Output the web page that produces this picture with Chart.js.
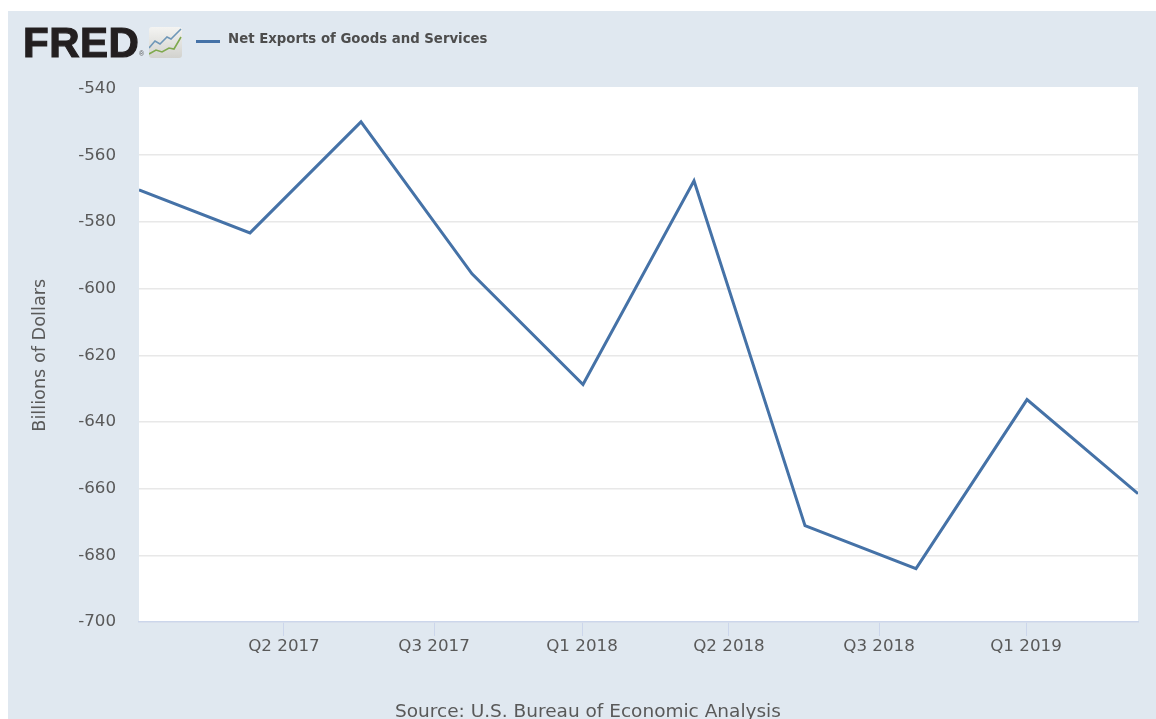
<!DOCTYPE html>
<html lang="en">
  <head>
    <meta charset="UTF-8" />
    <title>Net Exports of Goods and Services</title>
    <style>
      html, body {
        margin: 0;
        height: 100%;
        overflow: hidden;
        background: #fff;
      }
      .panel {
        position: absolute;
        left: 8px;
        top: 11px;
        right: 0;
        bottom: 0;
        background: #e0e8f0;
      }
      #chartWrap {
        position: absolute;
        left: 0;
        top: 0;
        width: 1156px;
        height: 719px;
      }
      .logo {
        position: absolute;
        left: 23px;
        top: 19px;
        font: bold 42px "Liberation Sans", sans-serif;
        letter-spacing: 0.5px;
        -webkit-text-stroke: 1.2px #231f20;
        color: #231f20;
        line-height: 48px;
      }
      .logoMark {
        position: absolute;
        left: 139px;
        top: 50px;
        font: 7px "Liberation Sans", sans-serif;
        color: #555;
      }
      .logoIcon {
        position: absolute;
        left: 149px;
        top: 27px;
      }
      .legendLine {
        position: absolute;
        left: 196px;
        top: 40px;
        width: 24px;
        height: 3px;
        background: #4572a7;
      }
      .legendText {
        position: absolute;
        left: 228px;
        top: 30px;
        font: bold 13.3px "DejaVu Sans", sans-serif;
        color: #4d4d4d;
        line-height: 18px;
        white-space: nowrap;
      }
      .source {
        position: absolute;
        left: 395px;
        top: 700px;
        width: 385px;
        text-align: center;
        font: 18.5px "DejaVu Sans", sans-serif;
        color: #595959;
        line-height: 22px;
        white-space: nowrap;
      }
    </style>
  </head>

  <body>
    <div class="panel"></div>
    <div id="chartWrap"><canvas id="lineExports" width="1156" height="719"></canvas></div>
    <div class="logo">FRED</div>
    <div class="logoMark">®</div>
    <svg class="logoIcon" width="33" height="31" viewBox="0 0 33 31">
      <defs>
        <linearGradient id="iconFill" x1="0" y1="0" x2="0" y2="1">
          <stop offset="0" stop-color="#f4f4f2" />
          <stop offset="1" stop-color="#d2d2ce" />
        </linearGradient>
      </defs>
      <rect width="33" height="31" rx="3" fill="url(#iconFill)" />
      <polyline points="0,21 6,14 11,17 18,10 22,12 32,2" fill="none" stroke="#6f97b8" stroke-width="1.6" />
      <polyline points="0,27 7,23 13,25 20,21 25,22 32,10" fill="none" stroke="#7fa94e" stroke-width="1.6" />
    </svg>
    <div class="legendLine"></div>
    <div class="legendText">Net Exports of Goods and Services</div>
    <div class="source">Source: U.S. Bureau of Economic Analysis</div>

    <script src="https://cdn.jsdelivr.net/npm/chart.js@4/dist/chart.umd.min.js"></script>
    <script>
      // quarter number of each observation, counted from the first one
      const obsPositions = [0, 1, 2, 3, 4, 5, 6, 7, 8, 9];
      const netExports = [-570.4, -583.3, -550, -595.6, -628.8, -567.7, -671.1, -684, -633.3, -661.5];

      const tickLabels = ["Q2 2017", "Q3 2017", "Q1 2018", "Q2 2018", "Q3 2018", "Q1 2019"];
      const tickPositions = [1.306, 2.658, 3.991, 5.315, 6.667, 7.991];
      const yTicks = [-540, -560, -580, -600, -620, -640, -660, -680, -700];

      // white plot background sits behind the grid, one pixel above the top gridline
      const plotBackground = {
        id: "plotBackground",
        beforeDraw(chart) {
          const a = chart.chartArea;
          chart.ctx.fillStyle = "#fff";
          chart.ctx.fillRect(a.left, a.top - 1.5, a.width, a.height + 1.5);
        }
      };

      new Chart(document.getElementById("lineExports"), {
        type: "line",
        plugins: [plotBackground],
        data: {
          datasets: [
            {
              data: obsPositions.map((x, i) => ({ x: x, y: netExports[i] })),
              borderColor: "#4572a7",
              borderWidth: 3,
              pointRadius: 0,
              tension: 0
            }
          ]
        },
        options: {
          responsive: false,
          animation: false,
          layout: { padding: { left: 0, right: 18, top: 88.5, bottom: 0 } },
          plugins: {
            legend: { display: false },
            tooltip: { enabled: false }
          },
          scales: {
            x: {
              type: "linear",
              min: 0,
              max: 9,
              afterBuildTicks(scale) {
                scale.ticks = tickPositions.map(v => ({ value: v }));
              },
              afterFit(scale) {
                scale.height = 97;
              },
              grid: {
                drawOnChartArea: false,
                drawTicks: true,
                tickLength: 14,
                color: "#ccd6eb",
                lineWidth: 1
              },
              border: { color: "#ccd6eb", width: 1.5 },
              ticks: {
                autoSkip: false,
                maxRotation: 0,
                padding: 1,
                color: "#595959",
                font: { family: "DejaVu Sans", size: 16.7 },
                callback: (v, i) => tickLabels[i]
              }
            },
            y: {
              min: -700,
              max: -540,
              afterBuildTicks(scale) {
                scale.ticks = yTicks.map(v => ({ value: v }));
              },
              afterFit(scale) {
                scale.width = 139;
              },
              grid: {
                color: ctx => (ctx.tick && ctx.tick.value === -540 ? "transparent" : "#e8e8e8"),
                lineWidth: 1.5,
                drawTicks: false
              },
              border: { display: false },
              title: {
                display: true,
                text: "Billions of Dollars",
                color: "#595959",
                font: { family: "DejaVu Sans", size: 17.7 },
                padding: { top: 30, bottom: 0 }
              },
              ticks: {
                padding: 23,
                color: "#595959",
                font: { family: "DejaVu Sans", size: 16.7 },
                callback: v => String(v)
              }
            }
          }
        }
      });
    </script>
  </body>
</html>
